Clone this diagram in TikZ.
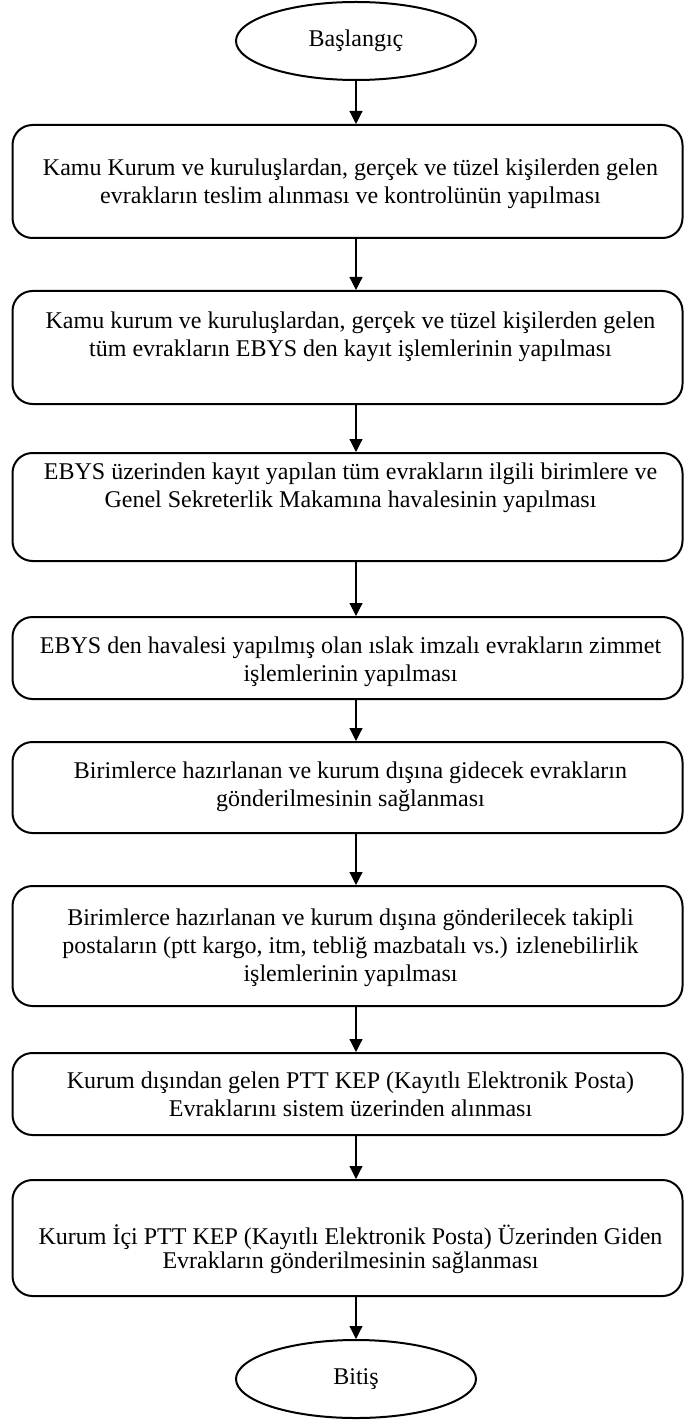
\documentclass[tikz,border=0pt]{standalone}
\usepackage{fontspec}
\setmainfont{Liberation Serif}
\usetikzlibrary{shapes.geometric, arrows.meta, positioning}

\begin{document}
\begin{tikzpicture}[x=1pt,y=-1pt,>={Triangle[length=13pt,width=13pt]},
    terminal/.style={ellipse, draw, line width=2pt, minimum width=240pt, minimum height=78pt, font=\fontsize{24}{28}\selectfont},
    stepbox/.style={rectangle, rounded corners=20pt, draw, line width=2pt, minimum width=670pt},
    steptext/.style={align=center, inner sep=0pt, xshift=3pt, font=\fontsize{24}{28}\selectfont},
    flow/.style={->, line width=1.2pt}]
  \useasboundingbox (0,0) rectangle (684,1420);

  \node[terminal] (start) at (356,41) {Başlangıç};

  \node[stepbox, minimum height=113pt] (b1) at (347.5,181.5) {};
  \node[steptext, below=32pt of b1.north] (t1) {\strut Kamu Kurum ve kuruluşlardan, gerçek ve tüzel kişilerden gelen\\evrakların teslim alınması ve kontrolünün yapılması};

  \node[stepbox, minimum height=113pt] (b2) at (347.5,347.5) {};
  \node[steptext, below=19pt of b2.north] (t2) {\strut Kamu kurum ve kuruluşlardan, gerçek ve tüzel kişilerden gelen\\tüm evrakların EBYS den kayıt işlemlerinin yapılması};

  \node[stepbox, minimum height=108pt] (b3) at (347.5,507) {};
  \node[steptext, below=8pt of b3.north] (t3) {\strut EBYS üzerinden kayıt yapılan tüm evrakların ilgili birimlere ve\\Genel Sekreterlik Makamına havalesinin yapılması};

  \node[stepbox, minimum height=82pt] (b4) at (347.5,658) {};
  \node[steptext, below=18pt of b4.north] (t4) {\strut EBYS den havalesi yapılmış olan ıslak imzalı evrakların zimmet\\işlemlerinin yapılması};

  \node[stepbox, minimum height=91pt] (b5) at (347.5,787.5) {};
  \node[steptext, below=18pt of b5.north] (t5) {\strut Birimlerce hazırlanan ve kurum dışına gidecek evrakların\\gönderilmesinin sağlanması};

  \node[stepbox, minimum height=120pt] (b6) at (347.5,946) {};
  \node[steptext, below=21pt of b6.north] (t6) {\strut Birimlerce hazırlanan ve kurum dışına gönderilecek takipli\\postaların (ptt kargo, itm, tebliğ mazbatalı vs.) izlenebilirlik\\işlemlerinin yapılması};

  \node[stepbox, minimum height=82pt] (b7) at (347.5,1094) {};
  \node[steptext, below=17pt of b7.north] (t7) {\strut Kurum dışından gelen PTT KEP (Kayıtlı Elektronik Posta)\\Evraklarını sistem üzerinden alınması};

  \node[stepbox, minimum height=116pt] (b8) at (347.5,1238) {};
  \node[steptext, font=\fontsize{24}{24}\selectfont, below=45pt of b8.north] (t8) {\strut Kurum İçi PTT KEP (Kayıtlı Elektronik Posta) Üzerinden Giden\\Evrakların gönderilmesinin sağlanması};

  \node[terminal] (stop) at (356,1379) {Bitiş};

  \path[flow]
    (start) edge (b1.north -| start)
    (b1.south -| start) edge (b2.north -| start)
    (b2.south -| start) edge (b3.north -| start)
    (b3.south -| start) edge (b4.north -| start)
    (b4.south -| start) edge (b5.north -| start)
    (b5.south -| start) edge (b6.north -| start)
    (b6.south -| start) edge (b7.north -| start)
    (b7.south -| start) edge (b8.north -| start)
    (b8.south -| start) edge (stop);
\end{tikzpicture}
\end{document}
